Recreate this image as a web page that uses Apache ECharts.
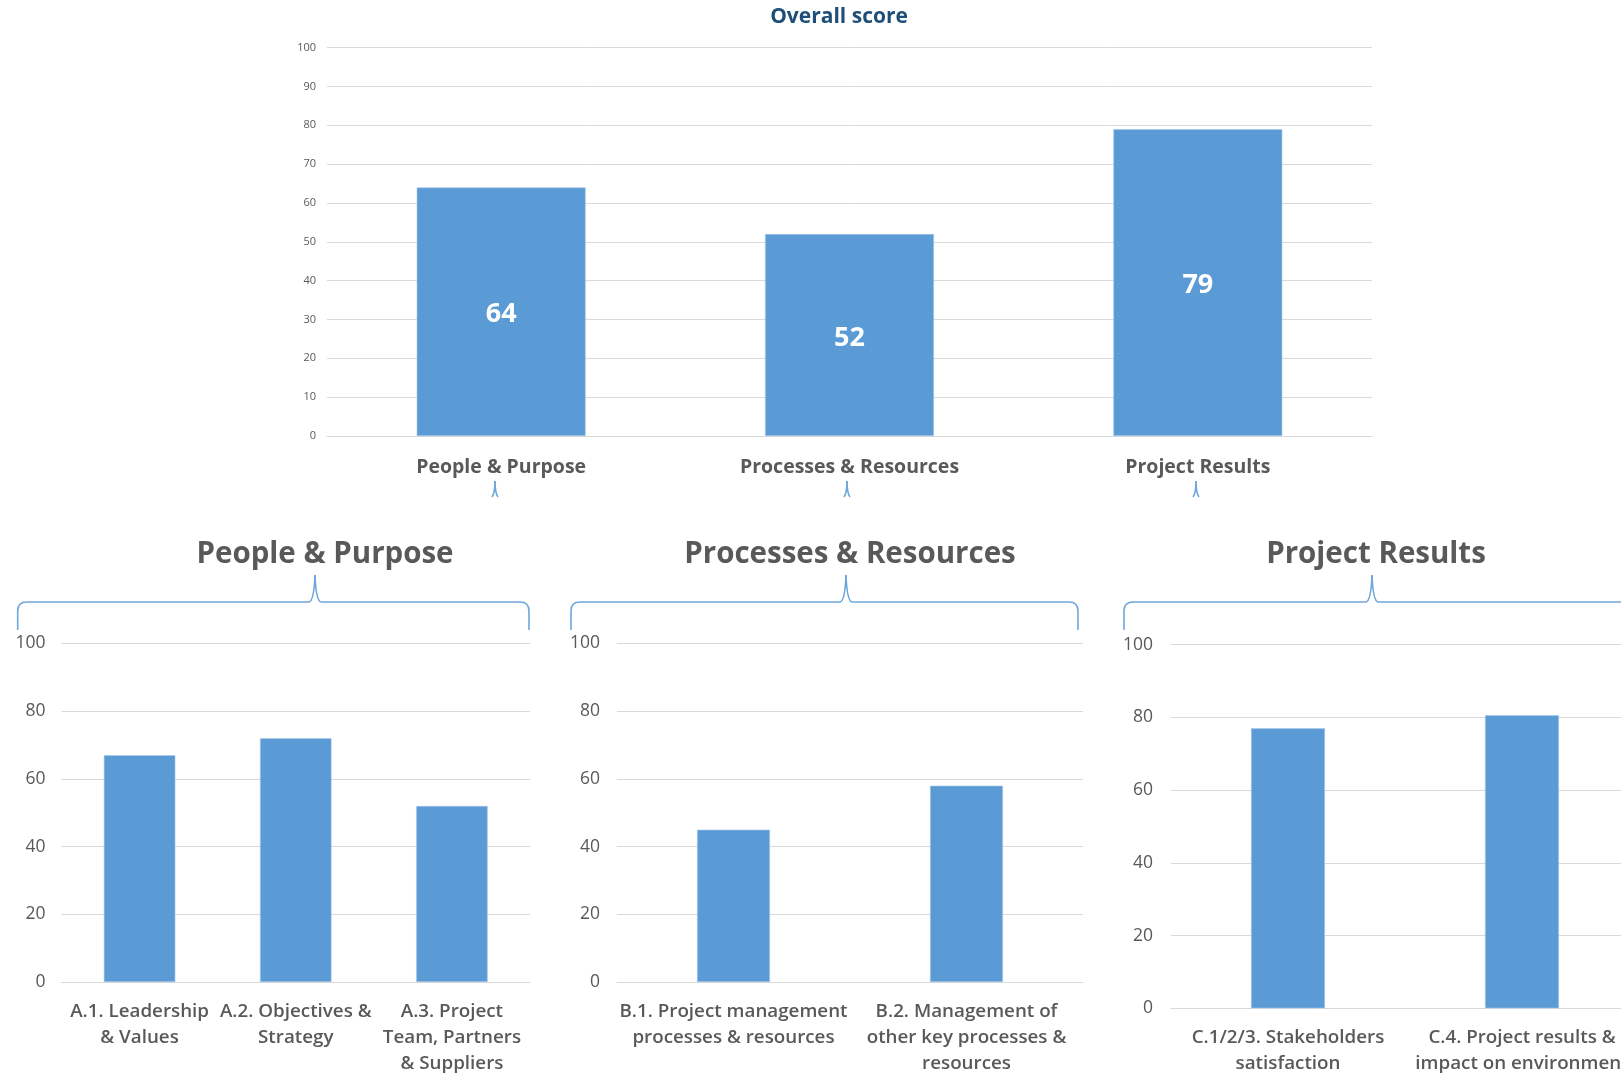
<!DOCTYPE html>
<html>
<head>
<meta charset="utf-8">
<script src="https://cdn.jsdelivr.net/npm/echarts@6/dist/echarts.min.js"></script>
<style>
  html, body { margin: 0; padding: 0; background: #ffffff; overflow: hidden; }
  /* The chart canvas is wider than the page so the last panel runs off the right edge */
  #chart { width: 1680px; height: 1075px; }
</style>
</head>
<body>
<div id="chart"></div>
<script>
// Overall score per area
const overallCategories = ['People & Purpose', 'Processes & Resources', 'Project Results'];
const overallValues = [64, 52, 79];

// People & Purpose breakdown
const peopleCategories = ['A.1. Leadership\n& Values', 'A.2. Objectives &\nStrategy', 'A.3. Project\nTeam, Partners\n& Suppliers'];
const peopleValues = [67, 72, 52];

// Processes & Resources breakdown
const processCategories = ['B.1. Project management\nprocesses & resources', 'B.2. Management of\nother key processes &\nresources'];
const processValues = [45, 58];

// Project Results breakdown
const resultCategories = ['C.1/2/3. Stakeholders\nsatisfaction', 'C.4. Project results &\nimpact on environment'];
const resultValues = [77, 80.6];

const topTicks = [0, 10, 20, 30, 40, 50, 60, 70, 80, 90, 100];
const panelTicks = [0, 20, 40, 60, 80, 100];

const FONT = '"Open Sans", "Noto Sans", sans-serif';
const GREY = '#595959';
const GRID_LINE = '#d9d9d9';
const BAR = '#5b9bd5';
const BRACE = '#6fa6db';

const chart = echarts.init(document.getElementById('chart'), null, { renderer: 'canvas' });

// Grid boxes (pixels)
const grids = [
  { left: 327, top: 47.6, width: 1045, height: 388.4 },   // overall
  { left: 61.5, top: 643.5, width: 468.5, height: 338.5 }, // people
  { left: 617, top: 643.5, width: 466, height: 338.5 },    // processes
  { left: 1171, top: 644.6, width: 468, height: 363.7 }    // results (runs past the right edge)
];

function xAxisFor(gridIndex, data, opts) {
  return {
    type: 'category', gridIndex, data,
    axisLine: { show: true, lineStyle: { color: GRID_LINE, width: 1 } },
    axisTick: { show: false },
    axisLabel: Object.assign({
      color: GREY, fontFamily: FONT, fontWeight: 600, interval: 0, hideOverlap: false
    }, opts)
  };
}

function yAxisFor(gridIndex, step, labelOpts) {
  return {
    type: 'value', gridIndex, min: 0, max: 100, interval: step,
    axisLine: { show: false }, axisTick: { show: false },
    splitLine: { show: true, lineStyle: { color: GRID_LINE, width: 1 } },
    axisLabel: Object.assign({ color: GREY, fontFamily: FONT }, labelOpts)
  };
}

function barSeries(idx, data, width, withLabel) {
  const s = {
    type: 'bar', xAxisIndex: idx, yAxisIndex: idx, data,
    barWidth: width,
    itemStyle: { color: BAR, borderColor: '#a9c9ea', borderWidth: 0.6 },
    silent: true, animation: false
  };
  if (withLabel) {
    s.label = {
      show: true, position: 'inside', offset: [0, 3], color: '#ffffff',
      fontFamily: FONT, fontWeight: 'bold', fontSize: 27
    };
  }
  return s;
}

const braceStyle = { stroke: BRACE, lineWidth: 1.6, fill: null };

function seg(x1, y1, x2, y2) {
  return { type: 'line', silent: true, shape: { x1, y1, x2, y2 }, style: braceStyle };
}
function curve(x1, y1, cpx1, cpy1, x2, y2) {
  return { type: 'bezierCurve', silent: true, shape: { x1, y1, cpx1, cpy1, x2, y2 }, style: braceStyle };
}

// Curly brace above each breakdown panel
function brace(x0, x1, tipX, yLine, yTip, yEnd) {
  const r = 9;
  return [
    seg(x0, yEnd, x0, yLine + r),
    curve(x0, yLine + r, x0, yLine, x0 + r, yLine),
    seg(x0 + r, yLine, tipX - 6, yLine),
    curve(tipX - 6, yLine, tipX - 1, yLine - 1, tipX, yTip),
    curve(tipX, yTip, tipX + 1, yLine - 1, tipX + 6, yLine),
    seg(tipX + 6, yLine, x1 - r, yLine),
    curve(x1 - r, yLine, x1, yLine, x1, yLine + r),
    seg(x1, yLine + r, x1, yEnd)
  ];
}

// Small brace tip under each overall category
function tip(x, yTop, yBottom) {
  return [
    curve(x - 3, yBottom, x, yBottom - 4, x, yTop),
    curve(x, yTop, x, yBottom - 4, x + 3, yBottom)
  ];
}

function heading(text, x, y, size, color) {
  return {
    type: 'text', silent: true, x, y,
    style: { text, fill: color, font: 'bold ' + size + 'px ' + FONT, align: 'center', verticalAlign: 'middle' }
  };
}

const option = {
  backgroundColor: '#ffffff',
  animation: false,
  // fixed pixel boxes; labels may run up to the page edges
  grid: grids.map(g => Object.assign({ containLabel: false, outerBoundsMode: 'none' }, g)),
  xAxis: [
    xAxisFor(0, overallCategories, { fontSize: 19.5, lineHeight: 22, margin: 20, fontWeight: 'bold' }),
    xAxisFor(1, peopleCategories, { fontSize: 18.8, lineHeight: 26.4, margin: 16 }),
    xAxisFor(2, processCategories, { fontSize: 18.8, lineHeight: 26.4, margin: 16 }),
    xAxisFor(3, resultCategories, { fontSize: 18.8, lineHeight: 26.4, margin: 16 })
  ],
  yAxis: [
    yAxisFor(0, topTicks[1] - topTicks[0], { fontSize: 11, margin: 11 }),
    yAxisFor(1, panelTicks[1] - panelTicks[0], { fontSize: 17.5, margin: 16 }),
    yAxisFor(2, panelTicks[1] - panelTicks[0], { fontSize: 17.5, margin: 17 }),
    yAxisFor(3, panelTicks[1] - panelTicks[0], { fontSize: 17.5, margin: 18 })
  ],
  series: [
    barSeries(0, overallValues, '48.5%', true),
    barSeries(1, peopleValues, '45.8%', false),
    barSeries(2, processValues, '31.3%', false),
    barSeries(3, resultValues, '31.6%', false)
  ],
  graphic: [
    heading('Overall score', 839, 17, 21, '#1f4e79'),
    heading('People & Purpose', 325, 555, 29.5, GREY),
    heading('Processes & Resources', 850, 555, 29.5, GREY),
    heading('Project Results', 1376, 555, 29.5, GREY)
  ].concat(
    brace(17.7, 529, 315, 602, 575, 630),
    brace(571, 1078, 846, 602, 575, 630),
    brace(1124, 1660, 1372, 602, 575, 630),
    tip(495, 481, 497),
    tip(847, 481, 497),
    tip(1196, 481, 497)
  )
};

chart.setOption(option);
</script>
</body>
</html>
